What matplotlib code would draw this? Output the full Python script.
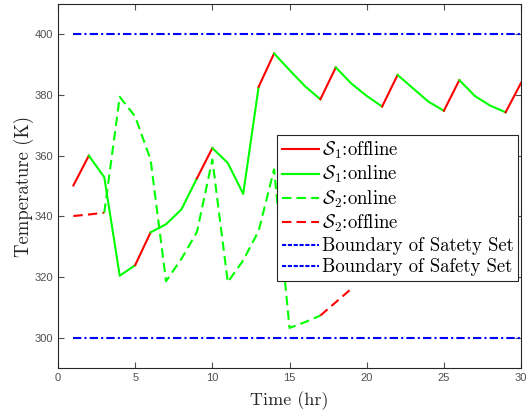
import numpy as np
import matplotlib
matplotlib.use("Agg")
import matplotlib.pyplot as plt
from matplotlib.lines import Line2D

plt.rcParams['mathtext.fontset'] = 'cm'
plt.rcParams['axes.unicode_minus'] = False

# S1 temperature, hours 1..30
s1_hours = list(range(1, 31))
s1_temp = [350.2, 360.0, 352.9, 320.4, 323.9, 334.7, 337.4, 342.3, 352.5, 362.5,
           357.6, 347.4, 382.7, 393.7, 388.2, 382.9, 378.6, 389.1, 383.8, 379.7,
           376.2, 386.6, 382.2, 377.8, 374.8, 384.9, 379.7, 376.5, 374.3, 384.0]
# mode of each segment (hour i -> i+1)
s1_mode = ['off', 'on', 'on', 'on', 'off', 'on', 'on', 'on', 'off', 'on',
           'on', 'on', 'off', 'on', 'on', 'on', 'off', 'on', 'on', 'on',
           'off', 'on', 'on', 'on', 'off', 'on', 'on', 'on', 'off']

# S2 temperature, hours 1..19
s2_hours = list(range(1, 20))
s2_temp = [340.1, 340.6, 341.2, 379.4, 372.9, 358.7, 318.6, 326.0, 334.8, 358.7,
           318.3, 325.5, 335.2, 355.5, 303.2, 305.1, 307.3, 311.7, 316.1]
s2_mode = ['off', 'off', 'on', 'on', 'on', 'on', 'on', 'on', 'on', 'on',
           'on', 'on', 'on', 'on', 'on', 'on', 'off', 'off']

bound_hours = [1, 30]
bound_upper = [400, 400]
bound_lower = [300, 300]

colors = {'off': (1, 0, 0), 'on': (0, 1, 0)}
DASH = (4.5, 2.5)
DASHDOT = (4, 1.5, 1, 1.5)
LW = 1.5


def runs(modes):
	# group consecutive segments with same mode
	out = []
	start = 0
	for i in range(1, len(modes) + 1):
		if i == len(modes) or modes[i] != modes[start]:
			out.append((start, i, modes[start]))
			start = i
	return out


fig = plt.figure(figsize=(5.29, 4.16), dpi=100)
ax = fig.add_axes([0.1096, 0.1154, 0.8754, 0.875])

ax.plot(bound_hours, bound_upper, color='blue', lw=LW, dashes=DASHDOT)
ax.plot(bound_hours, bound_lower, color='blue', lw=LW, dashes=DASHDOT)

for a, b, m in runs(s2_mode):
	ax.plot(s2_hours[a:b + 1], s2_temp[a:b + 1], color=colors[m], lw=LW, dashes=DASH)

for a, b, m in runs(s1_mode):
	ax.plot(s1_hours[a:b + 1], s1_temp[a:b + 1], color=colors[m], lw=LW)

ax.set_xlim(0, 30)
ax.set_ylim(290, 410)
ax.set_xticks(np.arange(0, 31, 5))
ax.set_yticks(np.arange(300, 401, 20))
ax.tick_params(direction='in', top=True, right=True, length=4, width=0.8,
               labelsize=8, colors='#505050', labelcolor='#505050')
for lab in ax.get_xticklabels() + ax.get_yticklabels():
	lab.set_fontfamily('Liberation Sans')
for sp in ax.spines.values():
	sp.set_color('#262626')
	sp.set_linewidth(0.8)

ax.set_xlabel('Time (hr)', fontfamily='cmr10', fontsize=13, color='#262626', labelpad=6)
ax.set_ylabel('Temperature (K)', fontfamily='cmr10', fontsize=13.5, color='#262626', labelpad=0)

handles = [
	Line2D([], [], color=colors['off'], lw=LW),
	Line2D([], [], color=colors['on'], lw=LW),
	Line2D([], [], color=colors['on'], lw=LW, dashes=DASH),
	Line2D([], [], color=colors['off'], lw=LW, dashes=DASH),
	Line2D([], [], color='blue', lw=LW, dashes=(2, 0.8, 2, 0.8)),
	Line2D([], [], color='blue', lw=LW, dashes=(2, 0.8, 2, 0.8)),
]
labels = [r'$\mathcal{S}_1$:offline', r'$\mathcal{S}_1$:online',
          r'$\mathcal{S}_2$:online', r'$\mathcal{S}_2$:offline',
          'Boundary of Satety Set', 'Boundary of Safety Set']
leg = ax.legend(handles, labels, loc='upper left', bbox_to_anchor=(0.473, 0.640),
                prop={'family': 'cmr10', 'size': 13.5}, fancybox=False,
                edgecolor='#262626', framealpha=1, handlelength=2.0,
                handletextpad=0.15, borderpad=0.25, labelspacing=0.17,
                borderaxespad=0)
leg.get_frame().set_linewidth(0.8)

fig.savefig('out.png', dpi=100)
